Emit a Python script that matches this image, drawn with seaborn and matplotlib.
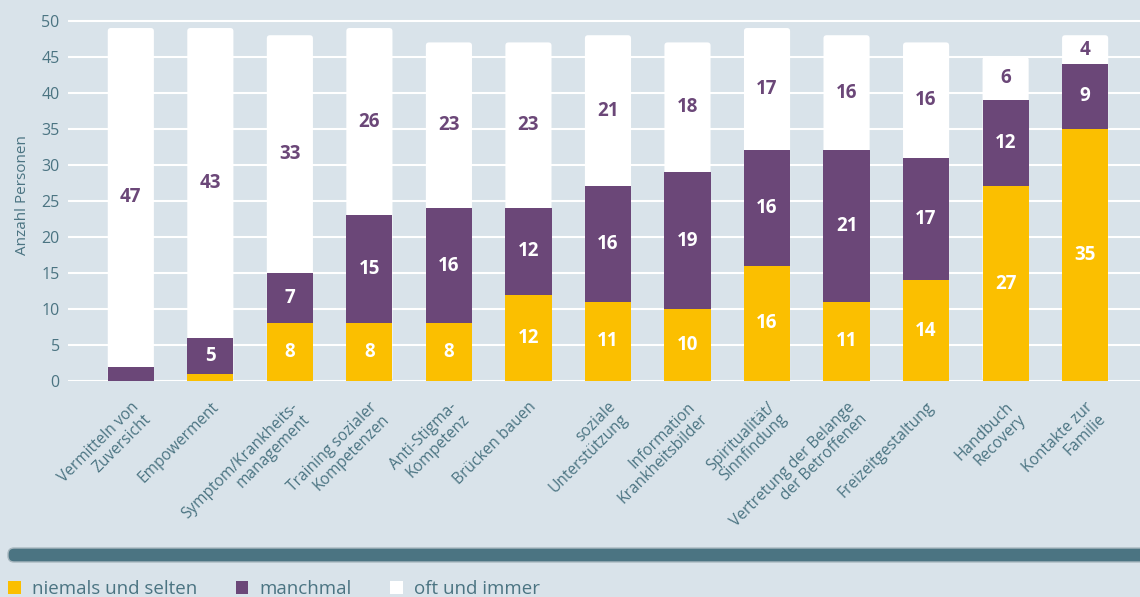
import numpy as np
import pandas as pd
import matplotlib
matplotlib.use('Agg')
import matplotlib.pyplot as plt
from matplotlib.patches import Patch, FancyBboxPatch
from matplotlib.transforms import IdentityTransform
import seaborn as sns

# data
kategorien = ['Vermitteln von\nZuversicht', 'Empowerment',
              'Symptom/Krankheits-\nmanagement', 'Training sozialer\nKompetenzen',
              'Anti-Stigma-\nKompetenz', 'Brücken bauen', 'soziale\nUnterstützung',
              'Information\nKrankheitsbilder', 'Spiritualität/\nSinnfindung',
              'Vertretung der Belange\nder Betroffenen', 'Freizeitgestaltung',
              'Handbuch\nRecovery', 'Kontakte zur\nFamilie']
niemals = [0, 1, 8, 8, 8, 12, 11, 10, 16, 11, 14, 27, 35]
manchmal = [2, 5, 7, 15, 16, 12, 16, 19, 16, 21, 17, 12, 9]
oft = [47, 43, 33, 26, 23, 23, 21, 18, 17, 16, 16, 6, 4]
serien = ['niemals und selten', 'manchmal', 'oft und immer']

BG = '#d9e3ea'
GELB = '#fbbf00'
LILA = '#6b4778'
WEISS = '#ffffff'
TXT = '#4b7482'

sns.set_theme(style='white')
plt.rcParams['font.family'] = ['Open Sans', 'DejaVu Sans']

df = pd.DataFrame({'kat': kategorien, 'niemals': niemals,
                   'manchmal': manchmal, 'oft': oft})
df['stufe1'] = df['niemals']
df['stufe2'] = df['niemals'] + df['manchmal']
df['stufe3'] = df['stufe2'] + df['oft']

f = plt.figure(figsize=(11.4, 5.97), dpi=100, facecolor=BG)
ax = f.add_axes([68 / 1140, 1 - 381 / 597, 1 - 68 / 1140, (381 - 10) / 597])
ax.set_facecolor(BG)

# stacked bars drawn as overlapping cumulative bars
sns.barplot(data=df, x='kat', y='stufe3', color=WEISS, saturation=1,
            width=0.58, ax=ax, linewidth=0, zorder=3)
# rounded tops on the white bars
asp = (1 / 13.48 * 1072) / (1 / 51.5 * 371)
for p in list(ax.patches):
    x0, y0, w, h = p.get_x(), p.get_y(), p.get_width(), p.get_height()
    p.remove()
    ax.add_patch(FancyBboxPatch((x0, y0), w, h,
                                boxstyle='round,pad=0,rounding_size=0.04',
                                mutation_aspect=asp, facecolor=WEISS,
                                edgecolor='none', zorder=3))
for col, farbe in [('stufe2', LILA), ('stufe1', GELB)]:
    sns.barplot(data=df, x='kat', y=col, color=farbe, saturation=1,
                width=0.58, ax=ax, linewidth=0, zorder=3)

# labels in the segments
for i, row in df.iterrows():
    segs = [(0, row['niemals'], WEISS), (row['stufe1'], row['manchmal'], WEISS),
            (row['stufe2'], row['oft'], LILA)]
    for start, h, c in segs:
        if h >= 3:
            ax.text(i, start + h / 2, str(h), ha='center', va='center',
                    color=c, fontsize=13.5, fontweight='bold', zorder=4)

ax.set_ylim(0, 51.5)
ax.set_xlim(-0.79, 12.69)
ax.set_yticks(range(0, 51, 5))
ax.yaxis.grid(True, color='white', linewidth=1.5, zorder=0)
ax.set_axisbelow(True)
for s in ax.spines.values():
    s.set_visible(False)
ax.tick_params(axis='both', length=0, colors=TXT)
ax.tick_params(axis='y', labelsize=11.5, pad=6)
ax.set_xlabel('')
ax.set_ylabel('Anzahl Personen', color=TXT, fontsize=11, labelpad=8)
ax.set_xticks(range(len(kategorien)))
ax.set_xticklabels(kategorien, rotation=45, ha='right', va='top',
                   rotation_mode='anchor', multialignment='right',
                   fontsize=11.2, color=TXT, linespacing=1.1)
ax.tick_params(axis='x', pad=13)

# scroll bar
f.add_artist(FancyBboxPatch((8, 597 - 562), 1140, 14,
                            boxstyle='round,pad=0,rounding_size=6',
                            facecolor=TXT, edgecolor='#a9b8c0', linewidth=1,
                            transform=IdentityTransform()))

# legend
handles = [Patch(facecolor=c, edgecolor='none') for c in [GELB, LILA, WEISS]]
leg = f.legend(handles, serien, loc='center left', bbox_to_anchor=(0.002, 0.013),
               ncol=3, frameon=False, fontsize=13.5, handlelength=0.68,
               handleheight=0.68, handletextpad=0.6, columnspacing=2.05,
               borderaxespad=0, borderpad=0.3)
for t in leg.get_texts():
    t.set_color(TXT)

f.savefig('out.png', dpi=100, facecolor=BG)
